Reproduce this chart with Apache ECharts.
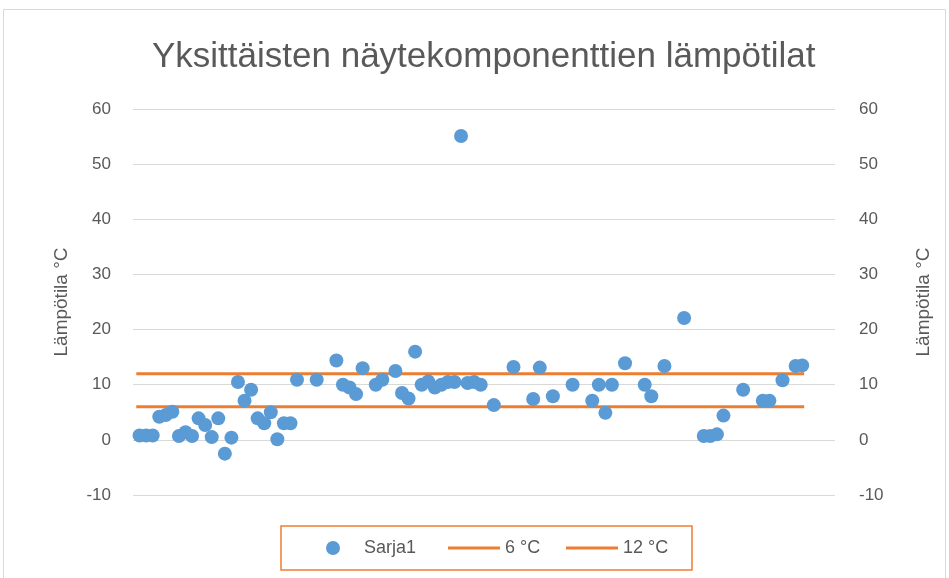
<!DOCTYPE html>
<html>
<head>
<meta charset="utf-8">
<script src="https://cdn.jsdelivr.net/npm/echarts@6/dist/echarts.min.js"></script>
<style>html,body{margin:0;padding:0;background:#fff;}#c{width:949px;height:578px;}</style>
</head>
<body>
<div id="c"></div>
<script>
// Sample index (x) and temperature (y) for Sarja1
const sampleX = [1,2,3,4,5,6,7,8,9,10,11,12,13,14,15,16,17,18,19,20,21,22,23,24,25,28,31,32,33,34,35,37,38,40,41,42,43,44,45,46,47,48,49,50,51,52,53,55,58,61,62,64,67,70,71,72,73,75,78,79,81,84,87,88,89,90,93,96,97,99,101,102];
const sampleY = [0.8,0.8,0.8,4.2,4.5,5.1,0.7,1.4,0.7,3.9,2.7,0.5,3.9,-2.5,0.4,10.5,7.1,9.1,3.9,3.0,5.0,0.1,3.0,3.0,10.9,10.9,14.4,10.0,9.5,8.3,13.0,10.0,10.9,12.5,8.5,7.5,16.0,10.0,10.6,9.5,10.0,10.5,10.5,55.1,10.3,10.5,10.0,6.3,13.2,7.4,13.1,7.9,10.0,7.1,10.0,4.9,10.0,13.9,10.0,7.9,13.4,22.1,0.7,0.7,1.0,4.4,9.1,7.1,7.1,10.8,13.4,13.5];
const limitX = [0.5, 102.3];
const limit6 = [6, 6];
const limit12 = [12, 12];
const yTicks = [-10, 0, 10, 20, 30, 40, 50, 60];

const seriesNames = ['Sarja1', '6 °C', '12 °C'];
const titleText = 'Yksittäisten näytekomponenttien lämpötilat';
const axisName = 'Lämpötila °C';

const FONT = '"Liberation Sans", sans-serif';
const TXT = '#595959';
const LINE_ICON = 'path://M0,0H52V3H0Z';
const DOT_ICON = 'path://M0,0M52,14M19,7A7,7,0,1,1,33,7A7,7,0,1,1,19,7Z';

const chart = echarts.init(document.getElementById('c'), null, {renderer: 'canvas'});
const yAxisCommon = {
  type: 'value', min: yTicks[0], max: yTicks[yTicks.length - 1], interval: 10,
  name: axisName, nameLocation: 'middle', nameGap: 62, nameRotate: 90,
  nameTextStyle: {color: TXT, fontSize: 19, fontFamily: FONT},
  axisLine: {show: false}, axisTick: {show: false},
  axisLabel: {color: TXT, fontSize: 17, fontFamily: FONT, margin: 22},
  splitLine: {show: true, lineStyle: {color: '#D9D9D9', width: 1}}
};
const legendLefts = [307, 448, 566];
const legendIcons = [DOT_ICON, LINE_ICON, LINE_ICON];
const legends = seriesNames.map((n, i) => ({
  data: [{name: n, icon: legendIcons[i]}],
  left: legendLefts[i], top: 539, padding: 0,
  itemWidth: 52, itemHeight: 14,
  textStyle: {color: TXT, fontSize: 18, fontFamily: FONT}
}));
chart.setOption({
  animation: false,
  backgroundColor: '#fff',
  title: {
    text: titleText, left: 152, top: 40, padding: 0,
    textStyle: {color: TXT, fontSize: 35, fontWeight: 'normal', fontFamily: FONT}
  },
  graphic: [{
    type: 'rect', shape: {x: 3.5, y: 9.5, width: 942, height: 600},
    style: {fill: 'none', stroke: '#D9D9D9', lineWidth: 1}, silent: true
  }, {
    type: 'rect', shape: {x: 281, y: 526, width: 411, height: 44},
    style: {fill: 'none', stroke: '#ED7D31', lineWidth: 1.5}, silent: true
  }],
  legend: legends,
  grid: {left: 133, right: 114, top: 109, height: 386, containLabel: false},
  xAxis: {
    type: 'value', min: 0, max: 107,
    axisLine: {show: false}, axisTick: {show: false}, axisLabel: {show: false},
    splitLine: {show: false}
  },
  yAxis: [
    Object.assign({}, yAxisCommon, {position: 'left'}),
    Object.assign({}, yAxisCommon, {position: 'right', nameGap: 79, axisLabel: Object.assign({}, yAxisCommon.axisLabel, {margin: 24}), splitLine: {show: false}})
  ],
  series: [
    {
      name: seriesNames[0], type: 'scatter', symbolSize: 14,
      itemStyle: {color: '#5B9BD5', opacity: 1},
      data: sampleX.map((x, i) => [x, sampleY[i]]), z: 3
    },
    {
      name: seriesNames[1], type: 'line', symbol: 'none',
      lineStyle: {color: '#ED7D31', width: 3}, itemStyle: {color: '#ED7D31'},
      data: limitX.map((x, i) => [x, limit6[i]]), z: 2
    },
    {
      name: seriesNames[2], type: 'line', symbol: 'none',
      lineStyle: {color: '#ED7D31', width: 3}, itemStyle: {color: '#ED7D31'},
      data: limitX.map((x, i) => [x, limit12[i]]), z: 2
    }
  ]
});
</script>
</body>
</html>
